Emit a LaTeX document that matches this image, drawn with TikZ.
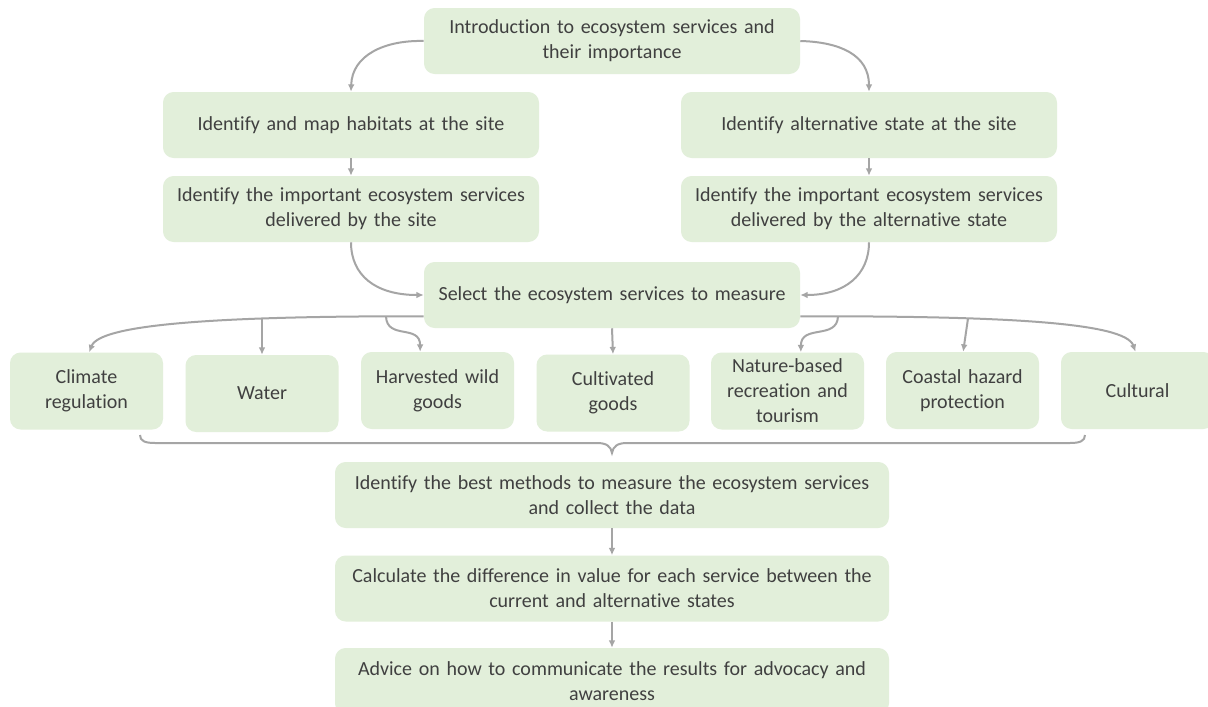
\documentclass[tikz,border=0pt]{standalone}
\usepackage{fontspec}
\setmainfont{Carlito}[Ligatures={NoCommon}]
\usetikzlibrary{arrows.meta,calc}
\newdimen\pxu \pxu=0.75pt
\definecolor{boxfill}{HTML}{E2EFDA}
\definecolor{txt}{HTML}{404040}
\definecolor{conn}{HTML}{A5A5A5}
\tikzset{
  box/.style={rectangle, rounded corners=8pt, fill=boxfill, draw=none, inner sep=0pt,
    align=center, text=txt, font=\fontsize{15}{18.7}\selectfont},
  wide/.style={box, minimum width=376\pxu, minimum height=66\pxu, text width=372\pxu},
  wider/.style={box, minimum width=554\pxu, minimum height=66\pxu, text width=550\pxu},
  small/.style={box, minimum width=153\pxu, minimum height=77\pxu, text width=151\pxu},
  arr/.style={draw=conn, line width=1.5pt, -{Latex[length=5.5pt,width=5pt]}},
  bracestyle/.style={draw=conn, line width=1.5pt},
}
\begin{document}
\begin{tikzpicture}[x=0.75pt,y=-0.75pt]
\clip (0,0) rectangle (1208,707);
\fill[white] (0,0) rectangle (1208,707);

\node[wide] (intro) at (612,41) {Introduction to ecosystem services and\\their importance};
\node[wide] (hab) at (351,125) {Identify and map habitats at the site};
\node[wide] (alt) at (869,125) {Identify alternative state at the site};
\node[wide] (essite) at (351,209) {Identify the important ecosystem services\\delivered by the site};
\node[wide] (esalt) at (869,209) {Identify the important ecosystem services\\delivered by the alternative state};
\node[wide] (select) at (612,295) {Select the ecosystem services to measure};

\node[small] (climate) at (86.5,391) {Climate\\regulation};
\node[small] (water) at (262,393.5) {Water};
\node[small] (harv) at (437.5,390.5) {Harvested wild\\goods};
\node[small] (cult) at (613,393) {Cultivated\\goods};
\node[small] (nature) at (787.5,391) {Nature-based\\recreation and\\tourism};
\node[small] (coastal) at (962.5,390.5) {Coastal hazard\\protection};
\node[small] (cultural) at (1137.5,390.5) {Cultural};

\node[wider] (methods) at (612,495) {Identify the best methods to measure the ecosystem services\\and collect the data};
\node[wider] (calc) at (612,588.5) {Calculate the difference in value for each service between the\\current and alternative states};
\node[wider] (advice) at (612,681) {Advice on how to communicate the results for advocacy and\\awareness};

% top connectors
\draw[arr] (intro.west) .. controls (385,40) and (352,55) .. (hab.north);
\draw[arr] (intro.east) .. controls (840,42) and (869,55) .. (alt.north);
\draw[arr] (hab.south) -- (essite.north);
\draw[arr] (alt.south) -- (esalt.north);
\draw[arr] (essite.south) .. controls (351,275) and (375,295) .. (select.west);
\draw[arr] (esalt.south) .. controls (869,275) and (845,295) .. (select.east);

% fan-out
\coordinate (wstart) at (262,318.5);
\coordinate (hstart) at (386,316.5);
\coordinate (nstart) at (838,316.5);
\coordinate (cstart) at (968,318.5);
\draw[arr] ([yshift=9pt]select.south west) .. controls (220,316) and (100,324) .. ([xshift=2pt]climate.north);
\draw[arr] (wstart) -- (water.north);
\draw[arr] (hstart) .. controls (387,340) and (420,324) .. ([xshift=-13pt]harv.north);
\draw[arr] (select.south) -- (cult.north);
\draw[arr] (nstart) .. controls (837,340) and (801,324) .. ([xshift=10pt]nature.north);
\draw[arr] (cstart) -- ([xshift=0.5pt]coastal.north);
\draw[arr] ([yshift=9pt]select.south east) .. controls (1000,316) and (1125,322) .. ([xshift=-1.5pt]cultural.north);

% brace
\coordinate (bl) at (140,435);
\coordinate (bm) at (612,453);
\coordinate (br) at (1085,435);
\draw[bracestyle] (bl) .. controls (140,441) and (145,443) .. (155,443) -- (597,443)
  .. controls (606,443) and (611,446) .. (bm)
  .. controls (613,446) and (618,443) .. (627,443) -- (1070,443)
  .. controls (1080,443) and (1085,441) .. (br);

% bottom chain
\draw[arr] (methods.south) -- (calc.north);
\draw[arr] (calc.south) -- (advice.north);
\end{tikzpicture}
\end{document}
